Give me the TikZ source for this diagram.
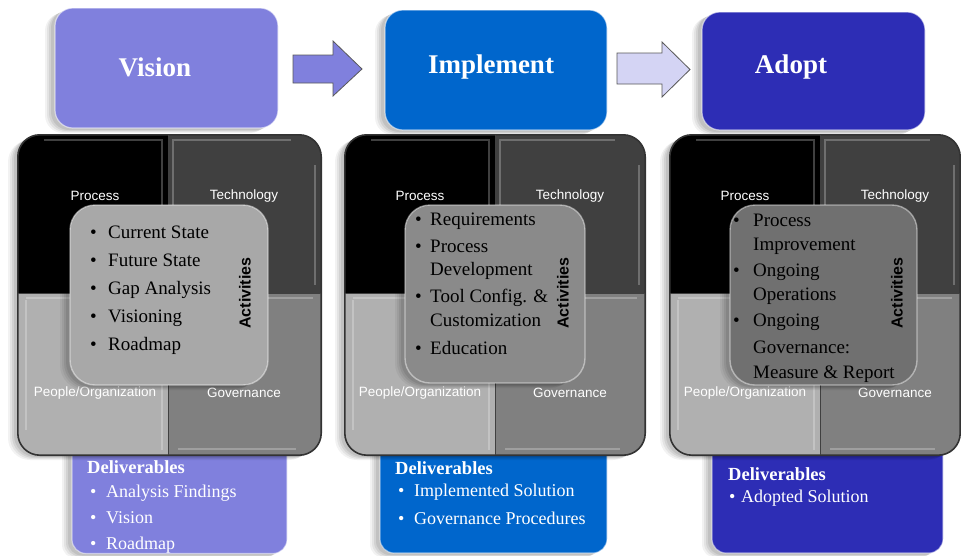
\documentclass[tikz,border=0pt]{standalone}
\usepackage{fontspec}
\setmainfont{Liberation Serif}
\newfontfamily\labelfont{Liberation Sans}
\usetikzlibrary{shadows,calc}
\definecolor{visc}{HTML}{8080DD}
\definecolor{impc}{HTML}{0066CC}
\definecolor{adpc}{HTML}{2D2DB5}
\definecolor{arrlight}{HTML}{D4D4F4}
\definecolor{techc}{HTML}{404040}
\definecolor{peoc}{HTML}{B0B0B0}
\definecolor{govc}{HTML}{808080}
\definecolor{acta}{HTML}{A8A8A8}
\definecolor{actb}{HTML}{8A8A8A}
\definecolor{actc}{HTML}{707070}
\tikzset{
  softshadow/.style={
    general shadow={shadow xshift=-10pt, shadow yshift=-5pt, opacity=0.05, fill=black},
    general shadow={shadow xshift=-8pt, shadow yshift=-4pt, opacity=0.06, fill=black},
    general shadow={shadow xshift=-6pt, shadow yshift=-3pt, opacity=0.07, fill=black},
    general shadow={shadow xshift=-4pt, shadow yshift=-2pt, opacity=0.08, fill=black}},
  titlebox/.style={rectangle, rounded corners=18pt, draw=white, draw opacity=0.55, line width=1.2pt, softshadow},
  titletext/.style={text=white, font=\bfseries\fontsize{27}{30}\selectfont},
  arrowshape/.style={draw=black!65, line width=0.8pt},
  gridframe/.style={rectangle, rounded corners=22pt, fill=black, softshadow, inner sep=0pt},
  gridedge/.style={draw=black!80, line width=1.6pt, rounded corners=22pt},
  divider/.style={draw=black!75, line width=0.9pt},
  bevel/.style={draw=white, draw opacity=0.25, line width=1.6pt},
  quadlabel/.style={text=white, font=\labelfont\fontsize{13.5}{15}\selectfont},
  actbox/.style={rectangle, rounded corners=25pt, draw=white, draw opacity=0.45, line width=1.4pt, softshadow},
  actitem/.style={anchor=base west, text=black, font=\fontsize{19}{21}\selectfont, inner sep=0pt},
  actlabel/.style={rotate=90, text=black, font=\labelfont\bfseries\fontsize{16}{18}\selectfont},
  delbox/.style={rectangle, rounded corners=14pt, draw=white, draw opacity=0.5, line width=1.2pt, softshadow},
  delhead/.style={anchor=base west, text=white, font=\bfseries\fontsize{18.5}{20}\selectfont, inner sep=0pt},
  delitem/.style={anchor=base west, text=white, font=\fontsize{18}{20}\selectfont, inner sep=0pt},
}
\newcommand{\quadgrid}[5]{% name, x0, xm, x1, center-x
  \node[gridframe, minimum width=#4pt-#2pt, minimum height=320pt] (#1) at (#5,295) {};
  \begin{scope}
    \clip[rounded corners=22pt] (#1.north west) rectangle (#1.south east);
    \fill[black] (#2,135) rectangle (#3,293);
    \fill[techc] (#3,135) rectangle (#4,293);
    \fill[peoc] (#2,293) rectangle (#3,455);
    \fill[govc] (#3,293) rectangle (#4,455);
    \draw[bevel] (#2+26,140) -- (#3-6,140) -- (#3-6,288);
    \draw[bevel] (#3+5,288) -- (#3+5,140) -- (#4-30,140);
    \draw[bevel] (#4-6,165) -- (#4-6,285);
    \draw[bevel] (#2+8,298) -- (#3-6,298) -- (#3-6,450);
    \draw[bevel] (#2+8,300) -- (#2+8,430);
    \draw[bevel] (#3+5,298) -- (#4-8,298);
    \draw[bevel] (#3+10,449) -- (#4-25,449);
  \end{scope}
  \draw[gridedge] (#1.north west) rectangle (#1.south east);
  \draw[divider] (#3,135) -- (#3,455) (#2,293) -- (#4,293);
}
\begin{document}
\begin{tikzpicture}[x=1pt,y=-1pt]
\useasboundingbox[fill=white] (0,0) rectangle (961,555);

% ---------- title boxes ----------
\node[titlebox, fill=visc, minimum width=223pt, minimum height=120pt] (vision) at (166.5,68) {};
\node[titletext] (visiont) at (155,67) {Vision};
\node[titlebox, fill=impc, minimum width=222pt, minimum height=120pt] (implement) at (496,70) {};
\node[titletext] (implementt) at (491,67) {Implement};
\node[titlebox, fill=adpc, minimum width=223pt, minimum height=118pt] (adopt) at (813.5,71) {};
\node[titletext] (adoptt) at (791,67) {Adopt};

% ---------- arrows ----------
\draw[arrowshape, fill=visc] (293,55) -- (333,55) -- (333,41) -- (362,69) -- (333,96) -- (333,83) -- (293,83) -- cycle;
\draw[arrowshape, fill=arrlight] (617,53) -- (662,53) -- (662,42) -- (690,69.5) -- (662,97) -- (662,84) -- (617,84) -- cycle;

% ---------- deliverable boxes (behind the grids) ----------
\node[delbox, fill=visc, minimum width=215pt, minimum height=125pt] (del1) at (179.5,491) {};
\node[delbox, fill=impc, minimum width=227pt, minimum height=125pt] (del2) at (493.5,490.5) {};
\node[delbox, fill=adpc, minimum width=231pt, minimum height=125pt] (del3) at (827.5,490.5) {};

% ---------- quadrant grids ----------
\quadgrid{grid1}{18}{168}{321}{169.5}
\quadgrid{grid2}{345}{495}{645}{495}
\quadgrid{grid3}{670}{820}{960}{815}

% quadrant labels
\node[quadlabel] (p1) at (95,196) {Process};
\node[quadlabel] (t1) at (244,196) {Technology};
\node[quadlabel] (o1) at (95,393) {People/Organization};
\node[quadlabel] (g1) at (244,393) {Governance};
\node[quadlabel] (p2) at (420,196) {Process};
\node[quadlabel] (t2) at (570,196) {Technology};
\node[quadlabel] (o2) at (420,393) {People/Organization};
\node[quadlabel] (g2) at (570,393) {Governance};
\node[quadlabel] (p3) at (745,196) {Process};
\node[quadlabel] (t3) at (895,196) {Technology};
\node[quadlabel] (o3) at (745,393) {People/Organization};
\node[quadlabel] (g3) at (895,393) {Governance};

% ---------- activity boxes ----------
\node[actbox, fill=acta, minimum width=198pt, minimum height=180pt] (act1) at (169,295) {};
\node[actbox, fill=actb, minimum width=180pt, minimum height=178pt] (act2) at (495,294) {};
\node[actbox, fill=actc, minimum width=187pt, minimum height=180pt] (act3) at (823.5,295) {};

\node[actlabel] (al1) at (245,293) {Activities};
\node[actlabel] (al2) at (563,293) {Activities};
\node[actlabel] (al3) at (897,293) {Activities};

% activities 1
\foreach \t [count=\i] in {Current State,Future State,Gap Analysis,Visioning,Roadmap}{
  \node[actitem] (a1b\i) at (90,{238+28*(\i-1)}) {\textbullet};
  \node[actitem] (a1t\i) at (108,{238+28*(\i-1)}) {\t};
}
% activities 2
\node[actitem] (a2b1) at (415,225) {\textbullet};
\node[actitem] (a2t1) at (430,225) {Requirements};
\node[actitem] (a2b2) at (415,252) {\textbullet};
\node[actitem] (a2t2) at (430,252) {Process};
\node[actitem] (a2t3) at (430,275) {Development};
\node[actitem] (a2b4) at (415,302) {\textbullet};
\node[actitem] (a2t4) at (430,302) {Tool Config. \&};
\node[actitem] (a2t5) at (430,326) {Customization};
\node[actitem] (a2b6) at (415,354) {\textbullet};
\node[actitem] (a2t6) at (430,354) {Education};
% activities 3
\node[actitem] (a3b1) at (733,226) {\textbullet};
\node[actitem] (a3t1) at (753,226) {Process};
\node[actitem] (a3t2) at (753,250) {Improvement};
\node[actitem] (a3b3) at (733,276) {\textbullet};
\node[actitem] (a3t3) at (753,276) {Ongoing};
\node[actitem] (a3t4) at (753,300) {Operations};
\node[actitem] (a3b5) at (733,326) {\textbullet};
\node[actitem] (a3t5) at (753,326) {Ongoing};
\node[actitem] (a3t6) at (753,353) {Governance:};
\node[actitem] (a3t7) at (753,378) {Measure \& Report};

% ---------- deliverables text ----------
\node[delhead] (d1h) at (87,473) {Deliverables};
\node[delitem] (d1b1) at (90,497) {\textbullet};
\node[delitem] (d1t1) at (106,497) {Analysis Findings};
\node[delitem] (d1b2) at (90,523) {\textbullet};
\node[delitem] (d1t2) at (106,523) {Vision};
\node[delitem] (d1b3) at (90,549) {\textbullet};
\node[delitem] (d1t3) at (106,549) {Roadmap};

\node[delhead] (d2h) at (395,474) {Deliverables};
\node[delitem] (d2b1) at (398,496) {\textbullet};
\node[delitem] (d2t1) at (414,496) {Implemented Solution};
\node[delitem] (d2b2) at (398,524) {\textbullet};
\node[delitem] (d2t2) at (414,524) {Governance Procedures};

\node[delhead] (d3h) at (728,480) {Deliverables};
\node[delitem] (d3b1) at (729,502) {\textbullet};
\node[delitem] (d3t1) at (741,502) {Adopted Solution};
\end{tikzpicture}
\end{document}
